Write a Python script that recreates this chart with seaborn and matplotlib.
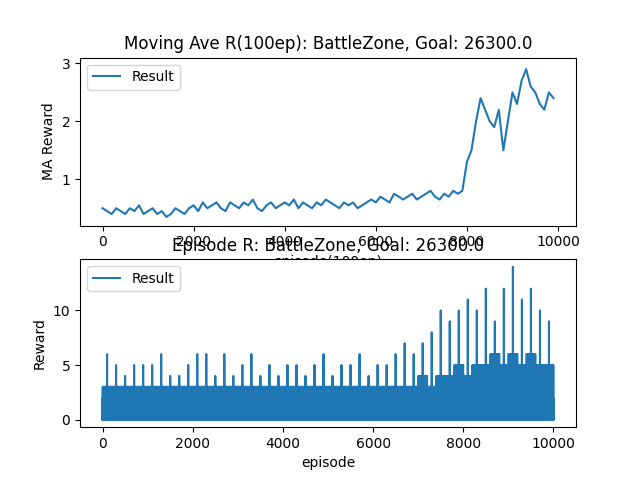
import numpy as np
import pandas as pd
import matplotlib
matplotlib.use("Agg")
import matplotlib.pyplot as plt
import seaborn as sns

# moving average reward, read every 100 episodes
ma_reward = [0.5, 0.45, 0.4, 0.5, 0.45, 0.4, 0.5, 0.45, 0.55, 0.4,
             0.45, 0.5, 0.4, 0.45, 0.35, 0.4, 0.5, 0.45, 0.4, 0.5,
             0.55, 0.45, 0.6, 0.5, 0.55, 0.6, 0.5, 0.45, 0.6, 0.55,
             0.5, 0.6, 0.55, 0.65, 0.5, 0.45, 0.55, 0.6, 0.5, 0.55,
             0.6, 0.55, 0.65, 0.5, 0.6, 0.55, 0.5, 0.6, 0.55, 0.65,
             0.6, 0.55, 0.5, 0.6, 0.55, 0.6, 0.5, 0.55, 0.6, 0.65,
             0.6, 0.7, 0.65, 0.6, 0.75, 0.7, 0.65, 0.7, 0.75, 0.65,
             0.7, 0.75, 0.8, 0.7, 0.65, 0.75, 0.7, 0.8, 0.75, 0.8,
             1.3, 1.5, 2.0, 2.4, 2.2, 2.0, 1.9, 2.2, 1.5, 2.0,
             2.5, 2.3, 2.7, 2.9, 2.6, 2.5, 2.3, 2.2, 2.5, 2.4]
ma_episode = [i * 100 for i in range(len(ma_reward))]

# episode reward per 200-episode bin: usual level and the peak
bin_level = [3, 3, 3, 3, 3, 3, 3, 3, 3, 3,
             3, 3, 3, 3, 3, 3, 3, 3, 3, 3,
             3, 3, 3, 3, 3, 3, 3, 3, 3, 3,
             3, 3, 3, 3, 3, 4, 3, 4, 4, 5,
             4, 5, 5, 6, 5, 6, 5, 6, 5, 5]
bin_peak = [6, 5, 4, 5, 5, 5, 6, 4, 4, 5,
            6, 6, 4, 6, 4, 5, 6, 4, 5, 4,
            5, 5, 4, 5, 6, 4, 5, 5, 6, 4,
            5, 5, 6, 7, 6, 7, 8, 10, 9, 10,
            11, 10, 12, 9, 12, 14, 11, 12, 10, 9]
BIN = 200

ep_reward = []
for lvl, pk in zip(bin_level, bin_peak):
    for j in range(BIN):
        if j == BIN // 2:
            ep_reward.append(pk)
        elif j % 2 == 0:
            ep_reward.append(0)
        else:
            ep_reward.append([1, 2, lvl, 1, 0][j // 2 % 5])
ep_df = pd.DataFrame({"episode": range(len(ep_reward)), "reward": ep_reward})
ma_df = pd.DataFrame({"episode": ma_episode, "reward": ma_reward})

fig, (ax1, ax2) = plt.subplots(2, 1, figsize=(6.4, 4.8), dpi=100)

sns.lineplot(data=ma_df, x="episode", y="reward", ax=ax1, color="#1f77b4", label="Result")
ax1.set_title("Moving Ave R(100ep): BattleZone, Goal: 26300.0")
ax1.set_xlabel("episode(100ep)")
ax1.set_ylabel("MA Reward")
ax1.set_yticks([1, 2, 3])
ax1.set_ylim(0.2, 3.1)
ax1.legend(loc="upper left")

sns.lineplot(data=ep_df, x="episode", y="reward", ax=ax2, color="#1f77b4",
             label="Result", linewidth=1.5)
ax2.set_title("Episode R: BattleZone, Goal: 26300.0")
ax2.set_xlabel("episode")
ax2.set_ylabel("Reward")
ax2.legend(loc="upper left")

fig.savefig("out.png")
